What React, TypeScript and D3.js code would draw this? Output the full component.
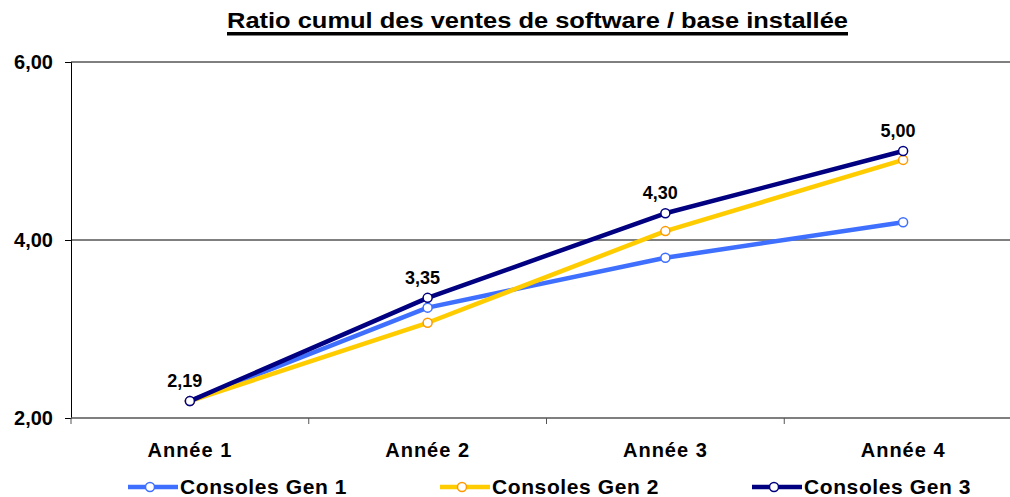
import React, { useEffect, useRef } from "react";
import * as d3 from "d3";

const categories = ["Année 1", "Année 2", "Année 3", "Année 4"];
const seriesNames = ["Consoles Gen 1", "Consoles Gen 2", "Consoles Gen 3"];
const gen1 = [2.19, 3.24, 3.8, 4.2];
const gen2 = [2.19, 3.07, 4.1, 4.9];
const gen3 = [2.19, 3.35, 4.3, 5.0];
const yTicks = [2, 4, 6];

const colors = ["#3f6fff", "#ffcc00", "#000080"];
const markerStroke = ["#3f6fff", "#ff9900", "#000080"];

const width = 1010;
const height = 497;
const margin = { top: 62, right: -12, bottom: 79, left: 71 };

const fmt = (v: number) => v.toFixed(2).replace(".", ",");

export default function App() {
  const ref = useRef<SVGSVGElement>(null);

  useEffect(() => {
    const svg = d3.select(ref.current);
    svg.selectAll("*").remove();

    const x = d3
      .scaleBand()
      .domain(categories)
      .range([margin.left, width - margin.right]);
    const y = d3
      .scaleLinear()
      .domain([2, 6])
      .range([height - margin.bottom, margin.top]);

    const font = "'Liberation Sans', Arial, sans-serif";

    // title, underline drawn as a bar so it gets the heavy look
    svg
      .append("text")
      .attr("x", 227)
      .attr("y", 28)
      .attr("font-family", font)
      .attr("font-weight", "bold")
      .attr("font-size", 22)
      .attr("textLength", 621)
      .attr("lengthAdjust", "spacingAndGlyphs")
      .text("Ratio cumul des ventes de software / base installée");
    svg
      .append("rect")
      .attr("x", 227)
      .attr("y", 32)
      .attr("width", 621)
      .attr("height", 3.5)
      .attr("fill", "#000");

    // gridlines
    svg
      .append("g")
      .selectAll("line")
      .data(yTicks.filter((t) => t > 2))
      .join("line")
      .attr("x1", margin.left)
      .attr("x2", width)
      .attr("y1", (d) => y(d))
      .attr("y2", (d) => y(d))
      .attr("stroke", "#000")
      .attr("stroke-width", 1);

    // y axis
    const yAxis = svg
      .append("g")
      .attr("transform", `translate(${margin.left},0)`)
      .call(
        d3
          .axisLeft(y)
          .tickValues(yTicks)
          .tickFormat((d) => fmt(d as number))
          .tickSize(6)
          .tickPadding(12)
      );
    yAxis.attr("font-size", null).attr("font-family", null);
    yAxis.select(".domain").attr("stroke", "#000");
    yAxis
      .selectAll("text")
      .attr("font-family", font)
      .attr("font-weight", "bold")
      .attr("font-size", 20)
      .attr("fill", "#000");

    // x axis
    const y0 = y(2);
    svg
      .append("line")
      .attr("x1", margin.left)
      .attr("x2", width)
      .attr("y1", y0)
      .attr("y2", y0)
      .attr("stroke", "#555")
      .attr("stroke-width", 1.5);
    svg
      .append("g")
      .selectAll("line")
      .data(categories)
      .join("line")
      .attr("x1", (d) => x(d)!)
      .attr("x2", (d) => x(d)!)
      .attr("y1", y0)
      .attr("y2", y0 + 6)
      .attr("stroke", "#555");
    svg
      .append("g")
      .selectAll("text")
      .data(categories)
      .join("text")
      .attr("x", (d) => x(d)! + x.bandwidth() / 2)
      .attr("y", 457)
      .attr("text-anchor", "middle")
      .attr("font-family", font)
      .attr("font-weight", "bold")
      .attr("font-size", 20)
      .attr("letter-spacing", 1)
      .text((d) => d);

    const allSeries = [gen1, gen2, gen3];
    const line = d3
      .line<number>()
      .x((_, i) => x(categories[i])! + x.bandwidth() / 2)
      .y((d) => y(d));

    allSeries.forEach((s, k) => {
      const g = svg.append("g");
      g.append("path")
        .attr("d", line(s))
        .attr("fill", "none")
        .attr("stroke", colors[k])
        .attr("stroke-width", 4.5)
        .attr("stroke-linejoin", "round");
      g.selectAll("circle")
        .data(s)
        .join("circle")
        .attr("cx", (_, i) => x(categories[i])! + x.bandwidth() / 2)
        .attr("cy", (d) => y(d))
        .attr("r", 4.5)
        .attr("fill", "#fff")
        .attr("stroke", markerStroke[k])
        .attr("stroke-width", 1.5);
    });

    // data labels for Gen 3
    svg
      .append("g")
      .selectAll("text")
      .data(gen3)
      .join("text")
      .attr("x", (_, i) => x(categories[i])! + x.bandwidth() / 2 - 5)
      .attr("y", (d) => y(d) - 14)
      .attr("text-anchor", "middle")
      .attr("font-family", font)
      .attr("font-weight", "bold")
      .attr("font-size", 18)
      .text((d) => fmt(d));

    // legend
    const legendX = [128, 440, 752];
    const legend = svg
      .append("g")
      .selectAll("g")
      .data(seriesNames)
      .join("g")
      .attr("transform", (_, i) => `translate(${legendX[i]},487)`);
    legend
      .append("line")
      .attr("x1", 0)
      .attr("x2", 50)
      .attr("stroke", (_, i) => colors[i])
      .attr("stroke-width", 4.5);
    legend
      .append("circle")
      .attr("cx", 22)
      .attr("r", 4.5)
      .attr("fill", "#fff")
      .attr("stroke", (_, i) => markerStroke[i])
      .attr("stroke-width", 1.5);
    legend
      .append("text")
      .attr("x", 52)
      .attr("y", 7)
      .attr("font-family", font)
      .attr("font-weight", "bold")
      .attr("font-size", 21)
      .attr("letter-spacing", 0.6)
      .text((d) => d);
  }, []);

  return (
    <svg
      ref={ref}
      width={width}
      height={height}
      style={{ position: "absolute", left: 0, top: 0, background: "#fff" }}
    />
  );
}
